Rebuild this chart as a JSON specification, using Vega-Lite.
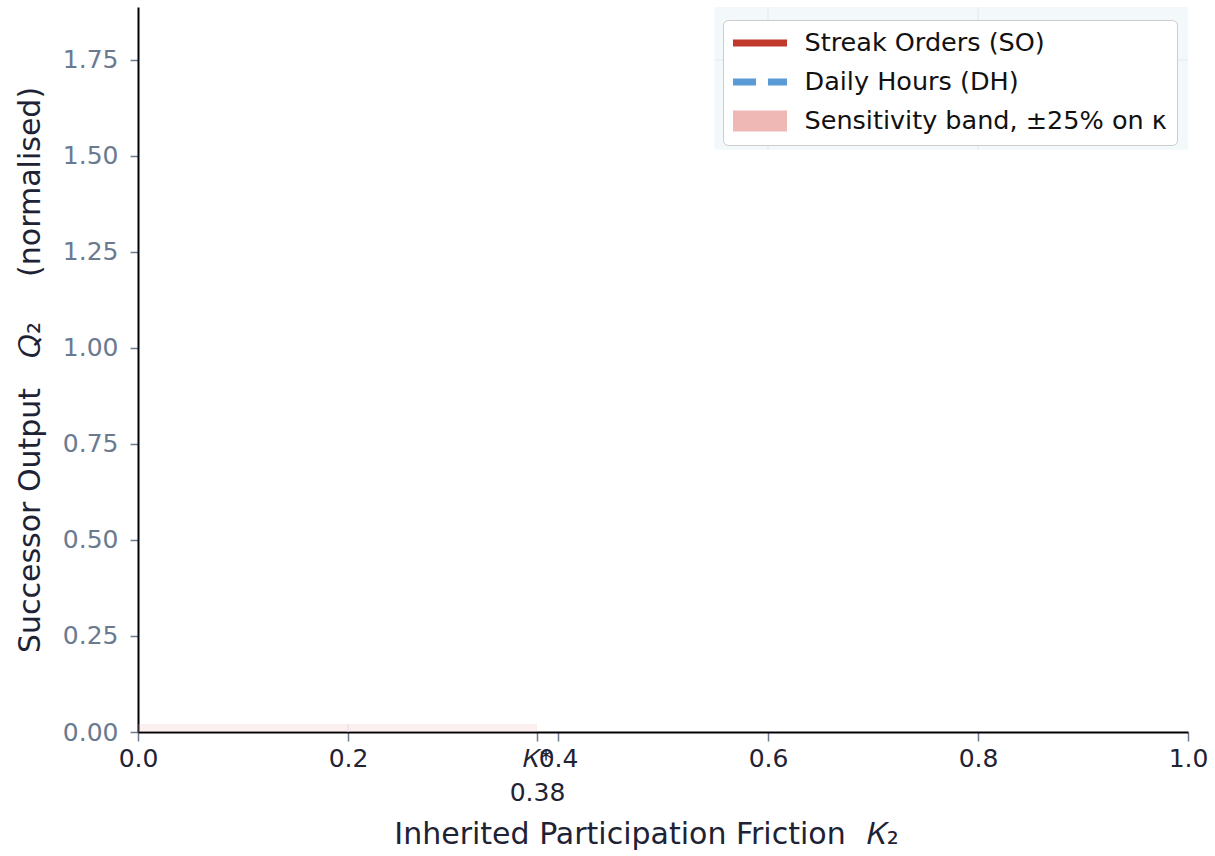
{
  "$schema": "https://vega.github.io/schema/vega-lite/v6.json",
  "width": 1050,
  "height": 725,
  "autosize": {"type": "none"},
  "padding": {"left": 138, "top": 7, "right": 27, "bottom": 124},
  "background": "white",
  "config": {"view": {"stroke": null}, "font": "DejaVu Sans"},
  "datasets": {
    "band": [{"series": "Sensitivity band, ±25% on κ", "k": 0, "k2": 0.38, "q": 0, "q2": 0.021}],
    "panel": [{"k": 0.549, "k2": 1.0, "q": 1.516, "q2": 1.888}],
    "vgrid": [{"k": 0.6, "q": 1.516, "q2": 1.888}, {"k": 0.8, "q": 1.516, "q2": 1.888}, {"k": 0.2, "q": 0, "q2": 0.021}],
    "hgrid": [{"k": 0.549, "k2": 1.0, "q": 1.75}]
  },
  "encoding": {
    "x": {
      "field": "k", "type": "quantitative",
      "scale": {"domain": [0, 1], "nice": false, "zero": false},
      "axis": {
        "title": "Inherited Participation Friction\u2002\u2009𝐾₂",
        "titleX": 508, "titleAnchor": "middle", "titleAlign": "center",
        "values": [0, 0.2, 0.38, 0.4, 0.6, 0.8, 1.0],
        "labelExpr": "datum.value == 0.38 ? ['𝐾*', '0.38'] : format(datum.value, '.1f')",
        "labelFontSize": 25, "labelColor": "#1f2333", "labelPadding": 5, "labelLineHeight": 34,
        "labelFlush": false, "labelOverlap": false,
        "tickColor": "#6b7a8f", "tickSize": 9, "tickWidth": 1.5,
        "domainColor": "#000000", "domainWidth": 2, "grid": false,
        "titleFontSize": 30, "titleFontWeight": "normal", "titleColor": "#1e2235", "titlePadding": 14
      }
    },
    "y": {
      "field": "q", "type": "quantitative",
      "scale": {"domain": [0, 1.888], "nice": false, "zero": false},
      "axis": {
        "title": "Successor Output\u2003𝑄₂\u2003\u2002(normalised)",
        "values": [0, 0.25, 0.5, 0.75, 1.0, 1.25, 1.5, 1.75],
        "format": ".2f",
        "labelFontSize": 25, "labelColor": "#6b7a8f", "labelPadding": 12,
        "labelFlush": false, "labelOverlap": false,
        "tickColor": "#6b7a8f", "tickSize": 8, "tickWidth": 1.5,
        "domainColor": "#000000", "domainWidth": 2, "grid": false,
        "titleFontSize": 30, "titleFontWeight": "normal", "titleColor": "#1e2235", "titlePadding": 17
      }
    }
  },
  "layer": [
    {
      "data": {"name": "panel"},
      "mark": {"type": "rect", "fill": "#f3f8fb"},
      "encoding": {"x2": {"field": "k2"}, "y2": {"field": "q2"}}
    },
    {
      "data": {"name": "vgrid"},
      "mark": {"type": "rule", "stroke": "#e4ebf0", "strokeWidth": 1.2},
      "encoding": {"y2": {"field": "q2"}}
    },
    {
      "data": {"name": "hgrid"},
      "mark": {"type": "rule", "stroke": "#e4ebf0", "strokeWidth": 1.2},
      "encoding": {"x2": {"field": "k2"}}
    },
    {
      "data": {"name": "band"},
      "mark": {"type": "rect", "fillOpacity": 0.22},
      "encoding": {
        "x2": {"field": "k2"},
        "y2": {"field": "q2"},
        "color": {
          "field": "series", "type": "nominal",
          "scale": {
            "domain": ["Streak Orders (SO)", "Daily Hours (DH)", "Sensitivity band, ±25% on κ"],
            "range": ["#c0392b", "#5b9bd5", "#f0b8b5"]
          },
          "legend": {
            "title": null,
            "orient": "none", "legendX": 585, "legendY": 13,
            "symbolType": "stroke", "symbolSize": 3481, "symbolStrokeWidth": 7,
            "clipHeight": 26, "rowPadding": 12,
            "labelFont": "DejaVu Sans", "labelFontSize": 25.5, "labelColor": "#111111", "labelOffset": 46,
            "labelLimit": 0,
            "padding": 10, "fillColor": "#ffffff", "strokeColor": "#cccccc", "cornerRadius": 5,
            "encode": {
              "symbols": {
                "update": {
                  "x": {"value": 24.5},
                  "fill": {"value": "transparent"},
                  "stroke": {"signal": "scale('color', datum.value)"},
                  "strokeWidth": {"signal": "datum.value === 'Sensitivity band, ±25% on κ' ? 21 : 7"},
                  "strokeDash": {"signal": "datum.value === 'Daily Hours (DH)' ? [28, 12] : [1, 0]"},
                  "strokeCap": {"value": "butt"},
                  "opacity": {"value": 1},
                  "strokeOpacity": {"value": 1}
                }
              }
            }
          }
        }
      }
    }
  ]
}
